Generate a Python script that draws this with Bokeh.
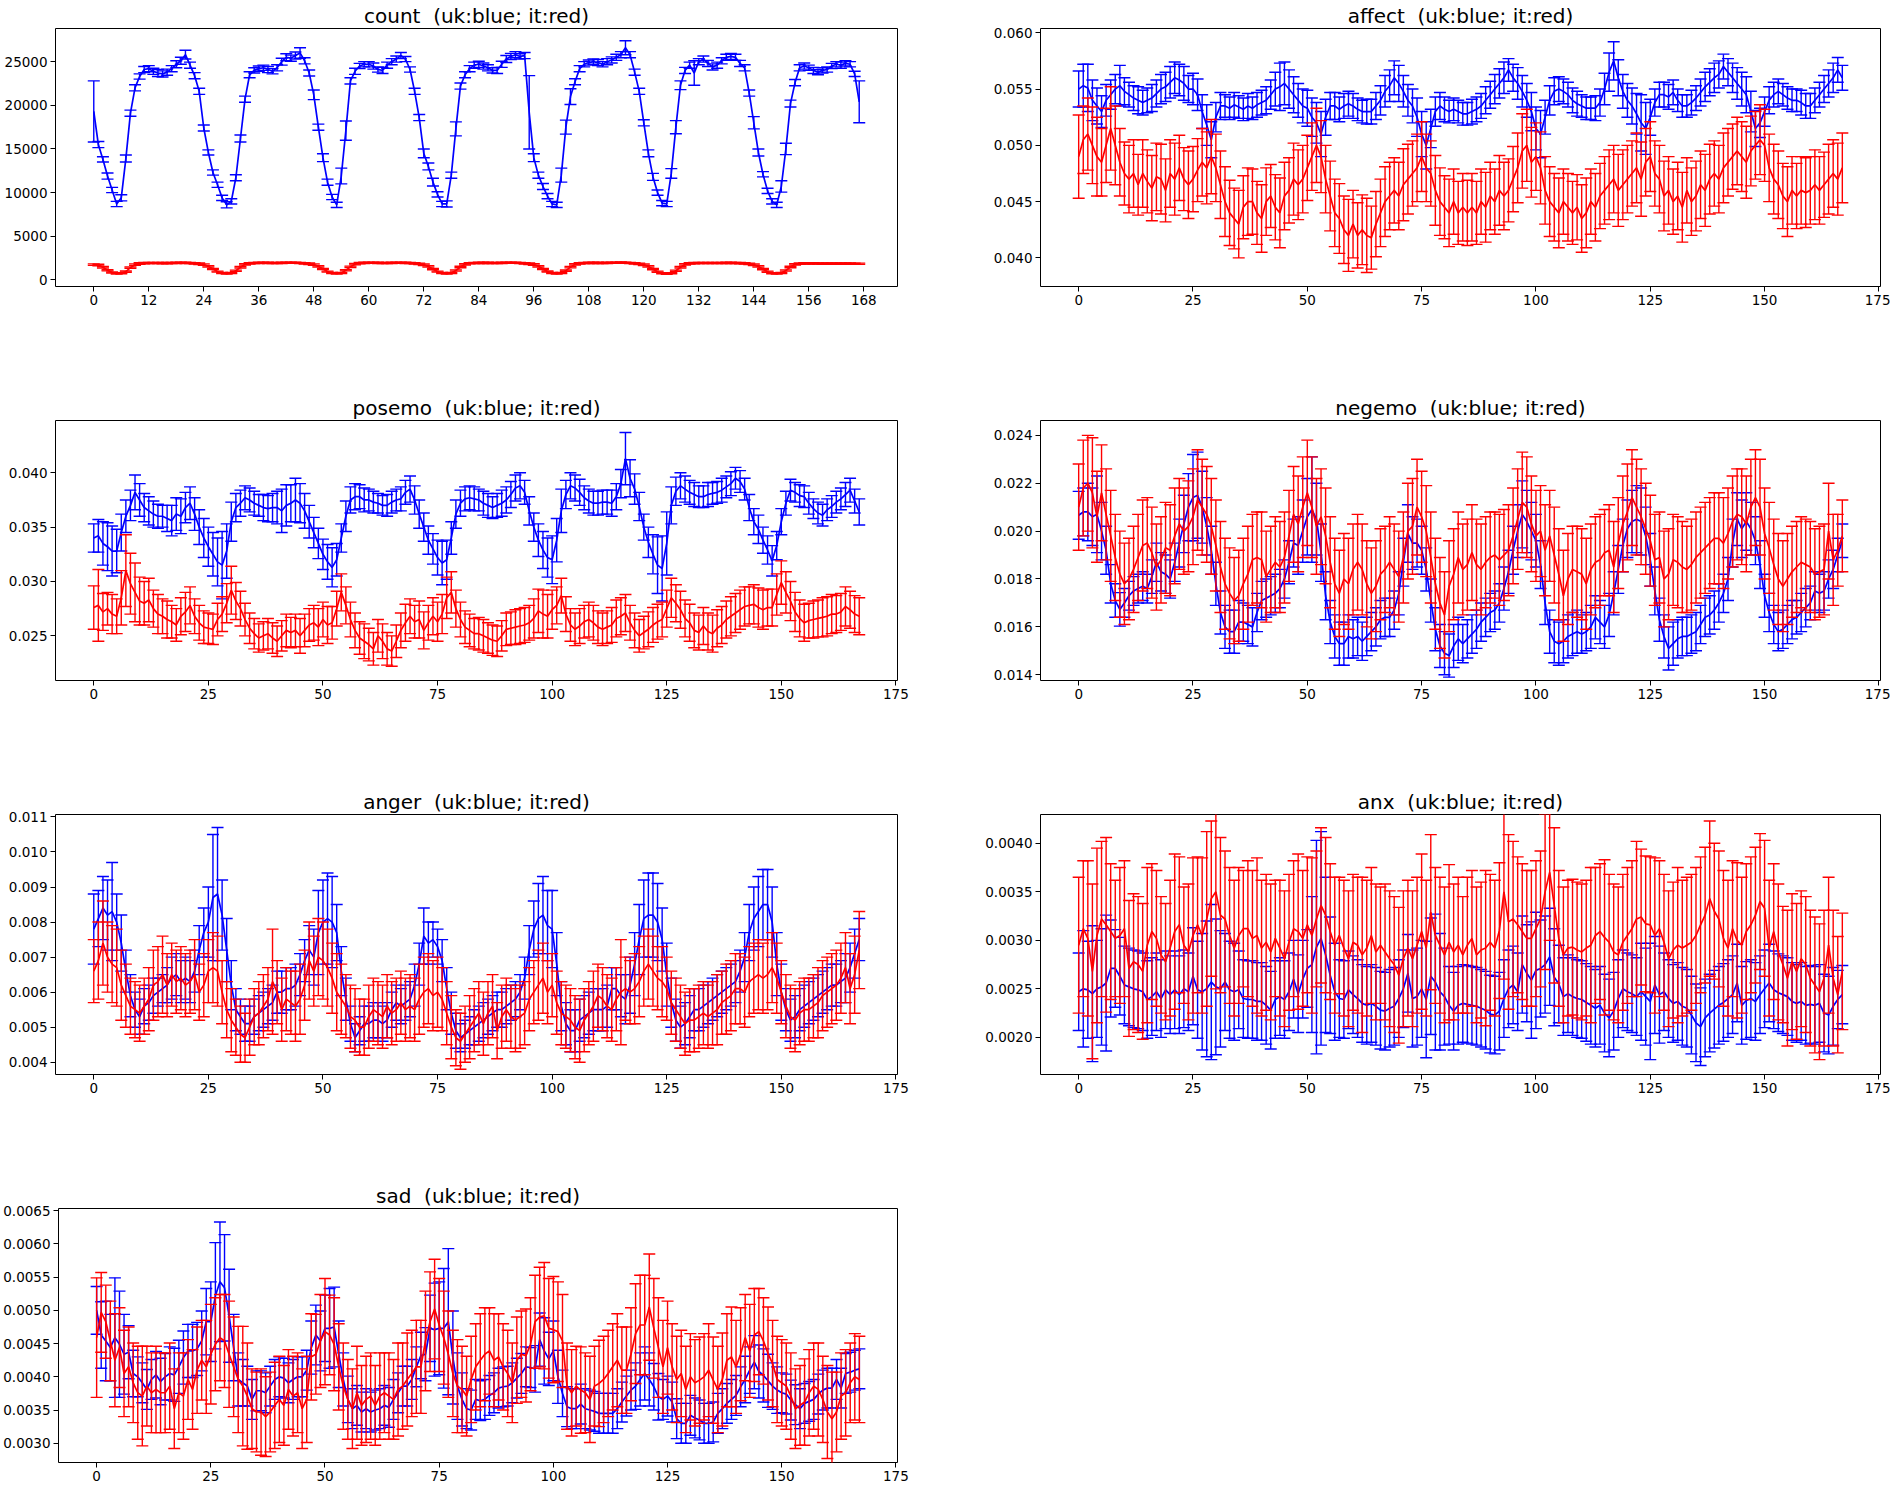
from bokeh.plotting import figure
from bokeh.layouts import column, row
from bokeh.models import ColumnDataSource, FixedTicker, Range1d
from bokeh.embed import file_html
from bokeh.resources import INLINE

hours = list(range(168))

# ---------------- count ----------------
count_uk = [19300, 15500, 13800, 11900, 10300, 8700, 9400, 13900, 19100, 22000, 23300, 24100, 24200, 23900, 23700, 23600, 23800, 24200, 24700, 25100, 25800, 24600, 23400, 21600,
            17400, 14600, 12300, 10900, 9400, 8600, 9000, 11700, 16200, 20700, 23500, 24000, 24200, 24300, 24100, 23900, 24300, 25000, 25500, 25400, 25700, 26000, 25100, 23700,
            21200, 17500, 14000, 11200, 9500, 8600, 11900, 17100, 22800, 23900, 24500, 24700, 24700, 24500, 24100, 24000, 24600, 25000, 25300, 25700, 25300, 24100, 21600, 18600,
            14500, 13000, 11200, 9800, 8700, 8700, 12000, 17300, 22200, 23500, 24200, 24600, 24700, 24500, 24300, 24000, 24000, 24700, 25300, 25600, 25800, 25600, 25700, 19200,
            14000, 12000, 10700, 9600, 8700, 8600, 12000, 17500, 21000, 22700, 24200, 24700, 24900, 25000, 24900, 24700, 25000, 25200, 25500, 25800, 26600, 25800, 23800, 21600,
            18000, 14500, 11800, 10000, 8800, 8700, 12200, 17500, 22300, 24000, 24600, 23700, 25000, 25300, 24800, 24400, 24600, 25100, 25500, 25600, 25500, 24800, 24300, 21400,
            18000, 14600, 12100, 10200, 9000, 8600, 10700, 15000, 20200, 22600, 24300, 24500, 24300, 24000, 23800, 24000, 24100, 24500, 24700, 24600, 24800, 24700, 23600, 20400]
count_uk_err = [3500, 350, 300, 350, 300, 300, 350, 400, 350, 350, 300, 350, 350, 350, 400, 350, 350, 350, 400, 400, 500, 350, 350, 350,
                350, 300, 300, 300, 300, 350, 300, 350, 400, 350, 350, 300, 300, 300, 350, 300, 350, 400, 400, 350, 400, 600, 350, 350,
                550, 350, 450, 350, 300, 300, 900, 1100, 350, 350, 300, 300, 300, 350, 300, 350, 350, 350, 350, 350, 300, 300, 350, 350,
                500, 400, 450, 300, 300, 350, 350, 800, 350, 350, 350, 350, 350, 350, 350, 300, 350, 350, 400, 350, 350, 300, 350, 4200,
                450, 350, 350, 300, 300, 300, 800, 800, 900, 350, 350, 300, 300, 300, 350, 300, 350, 350, 350, 350, 800, 350, 350, 350,
                350, 400, 400, 300, 300, 300, 550, 750, 500, 350, 350, 1400, 350, 350, 350, 350, 350, 350, 350, 350, 350, 350, 350, 350,
                700, 400, 300, 300, 300, 300, 650, 650, 400, 350, 350, 350, 300, 350, 300, 300, 300, 300, 300, 350, 300, 300, 300, 2400]
count_it = [1750, 1700, 1450, 1100, 850, 720, 760, 950, 1400, 1750, 1880, 1920, 1930, 1940, 1930, 1920, 1920, 1930, 1950, 1960, 1950, 1930, 1900, 1850,
            1750, 1550, 1250, 950, 780, 720, 780, 1050, 1450, 1780, 1900, 1930, 1950, 1960, 1950, 1940, 1940, 1950, 1960, 1970, 1960, 1940, 1900, 1850,
            1750, 1550, 1250, 950, 790, 730, 800, 1100, 1500, 1800, 1920, 1950, 1960, 1960, 1950, 1940, 1940, 1950, 1960, 1960, 1950, 1930, 1890, 1840,
            1740, 1540, 1230, 950, 780, 720, 790, 1080, 1480, 1790, 1910, 1940, 1950, 1950, 1950, 1940, 1940, 1950, 1960, 1970, 1960, 1940, 1900, 1850,
            1760, 1560, 1250, 960, 780, 720, 780, 1060, 1460, 1780, 1900, 1930, 1950, 1950, 1950, 1940, 1950, 1960, 1970, 1980, 1970, 1940, 1900, 1840,
            1740, 1540, 1230, 940, 770, 710, 770, 1050, 1450, 1770, 1890, 1920, 1930, 1940, 1940, 1930, 1930, 1940, 1950, 1950, 1940, 1920, 1890, 1840,
            1740, 1540, 1230, 940, 770, 720, 790, 1080, 1480, 1780, 1870, 1890, 1890, 1890, 1880, 1870, 1870, 1870, 1870, 1870, 1860, 1860, 1850, 1850]
count_it_err = [90, 90, 80, 70, 60, 60, 60, 70, 80, 90, 80, 70, 70, 70, 70, 70, 70, 70, 70, 70, 70, 70, 70, 80,
                90, 80, 70, 60, 60, 60, 60, 70, 80, 80, 70, 70, 70, 70, 70, 70, 70, 70, 70, 70, 70, 70, 70, 80,
                90, 80, 70, 60, 60, 60, 60, 70, 80, 80, 70, 70, 70, 70, 70, 70, 70, 70, 70, 70, 70, 70, 70, 80,
                90, 80, 70, 60, 60, 60, 60, 70, 80, 80, 70, 70, 70, 70, 70, 70, 70, 70, 70, 70, 70, 70, 70, 80,
                90, 80, 70, 60, 60, 60, 60, 70, 80, 80, 70, 70, 70, 70, 70, 70, 70, 70, 70, 70, 70, 70, 70, 80,
                90, 80, 70, 60, 60, 60, 60, 70, 80, 80, 70, 70, 70, 70, 70, 70, 70, 70, 70, 70, 70, 70, 70, 80,
                90, 80, 70, 60, 60, 60, 60, 70, 80, 80, 70, 70, 70, 70, 70, 70, 70, 70, 70, 70, 70, 70, 70, 70]

# ---------------- affect ----------------
affect_uk = [0.0550, 0.0553, 0.0551, 0.0540, 0.0535, 0.0530, 0.0540, 0.0545, 0.0550, 0.0553,
             0.0548, 0.0545, 0.0542, 0.0540, 0.0538, 0.0540, 0.0542, 0.0546, 0.0550, 0.0552,
             0.0556, 0.0560, 0.0558, 0.0555, 0.0550, 0.0550, 0.0545, 0.0530, 0.0518, 0.0505,
             0.0525, 0.0535, 0.0535, 0.0533, 0.0536, 0.0534, 0.0532, 0.0535, 0.0533, 0.0536,
             0.0538, 0.0540, 0.0545, 0.0550, 0.0552, 0.0555, 0.0550, 0.0545, 0.0540, 0.0535,
             0.0533, 0.0525, 0.0520, 0.0510, 0.0525, 0.0535, 0.0535, 0.0532, 0.0535, 0.0537,
             0.0535, 0.0532, 0.0530, 0.0530, 0.0530, 0.0535, 0.0540, 0.0548, 0.0553, 0.0560,
             0.0555, 0.0548, 0.0540, 0.0535, 0.0525, 0.0510, 0.0500, 0.0515, 0.0530, 0.0535,
             0.0532, 0.0530, 0.0532, 0.0530, 0.0528, 0.0528, 0.0530, 0.0532, 0.0535, 0.0540,
             0.0545, 0.0550, 0.0555, 0.0560, 0.0567, 0.0560, 0.0555, 0.0548, 0.0540, 0.0530,
             0.0515, 0.0510, 0.0525, 0.0540, 0.0548, 0.0550, 0.0548, 0.0545, 0.0540, 0.0537,
             0.0535, 0.0533, 0.0533, 0.0533, 0.0538, 0.0550, 0.0565, 0.0575, 0.0560, 0.0548,
             0.0540, 0.0535, 0.0528, 0.0520, 0.0515, 0.0525, 0.0538, 0.0545, 0.0545, 0.0543,
             0.0547, 0.0540, 0.0535, 0.0535, 0.0538, 0.0542, 0.0547, 0.0552, 0.0556, 0.0560,
             0.0563, 0.0570, 0.0565, 0.0560, 0.0555, 0.0550, 0.0545, 0.0530, 0.0515, 0.0520,
             0.0530, 0.0540, 0.0545, 0.0548, 0.0545, 0.0542, 0.0540, 0.0540, 0.0538, 0.0535,
             0.0535, 0.0540, 0.0545, 0.0550, 0.0555, 0.0560, 0.0567, 0.0560]
affect_uk_err = [0.0016, 0.0019, 0.0021, 0.0018, 0.0016, 0.0014, 0.0014, 0.0013, 0.0013, 0.0018,
                 0.0012, 0.0011, 0.0011, 0.0012, 0.0011, 0.0011, 0.0012, 0.0012, 0.0013, 0.0013,
                 0.0014, 0.0014, 0.0014, 0.0015, 0.0012, 0.0014, 0.0014, 0.0015, 0.0018, 0.0016,
                 0.0013, 0.0012, 0.0010, 0.0010, 0.0011, 0.0010, 0.0010, 0.0011, 0.0010, 0.0011,
                 0.0011, 0.0012, 0.0013, 0.0015, 0.0021, 0.0019, 0.0017, 0.0016, 0.0015, 0.0015,
                 0.0016, 0.0017, 0.0018, 0.0020, 0.0016, 0.0012, 0.0012, 0.0011, 0.0011, 0.0011,
                 0.0011, 0.0010, 0.0010, 0.0011, 0.0011, 0.0012, 0.0013, 0.0014, 0.0014, 0.0015,
                 0.0016, 0.0014, 0.0014, 0.0015, 0.0017, 0.0020, 0.0021, 0.0017, 0.0013, 0.0012,
                 0.0011, 0.0010, 0.0010, 0.0010, 0.0010, 0.0010, 0.0011, 0.0011, 0.0011, 0.0012,
                 0.0012, 0.0013, 0.0013, 0.0014, 0.0010, 0.0012, 0.0014, 0.0014, 0.0015, 0.0017,
                 0.0019, 0.0021, 0.0015, 0.0013, 0.0012, 0.0011, 0.0011, 0.0011, 0.0011, 0.0011,
                 0.0010, 0.0010, 0.0010, 0.0011, 0.0012, 0.0014, 0.0017, 0.0017, 0.0016, 0.0015,
                 0.0015, 0.0016, 0.0018, 0.0025, 0.0023, 0.0016, 0.0012, 0.0011, 0.0011, 0.0011,
                 0.0011, 0.0010, 0.0010, 0.0010, 0.0011, 0.0011, 0.0012, 0.0013, 0.0012, 0.0013,
                 0.0012, 0.0011, 0.0012, 0.0013, 0.0014, 0.0015, 0.0016, 0.0018, 0.0016, 0.0013,
                 0.0013, 0.0012, 0.0011, 0.0011, 0.0010, 0.0010, 0.0010, 0.0010, 0.0011, 0.0011,
                 0.0011, 0.0011, 0.0011, 0.0012, 0.0012, 0.0013, 0.0011, 0.0011]
affect_it = [0.0490, 0.0505, 0.0510, 0.0500, 0.0490, 0.0485, 0.0500, 0.0515, 0.0500, 0.0485,
             0.0475, 0.0470, 0.0475, 0.0465, 0.0475, 0.0468, 0.0462, 0.0472, 0.0470, 0.0460,
             0.0475, 0.0470, 0.0480, 0.0470, 0.0465, 0.0470, 0.0478, 0.0485, 0.0480, 0.0490,
             0.0480, 0.0465, 0.0450, 0.0440, 0.0435, 0.0430, 0.0445, 0.0450, 0.0450, 0.0440,
             0.0435, 0.0450, 0.0455, 0.0445, 0.0440, 0.0455, 0.0460, 0.0470, 0.0465, 0.0470,
             0.0480, 0.0490, 0.0500, 0.0490, 0.0470, 0.0455, 0.0440, 0.0435, 0.0425, 0.0420,
             0.0430, 0.0420, 0.0425, 0.0420, 0.0418, 0.0430, 0.0440, 0.0450, 0.0455, 0.0460,
             0.0455, 0.0465, 0.0470, 0.0475, 0.0480, 0.0490, 0.0480, 0.0475, 0.0460, 0.0450,
             0.0445, 0.0440, 0.0450, 0.0440, 0.0445, 0.0440, 0.0445, 0.0440, 0.0450, 0.0445,
             0.0455, 0.0450, 0.0460, 0.0455, 0.0460, 0.0470, 0.0480, 0.0495, 0.0500, 0.0485,
             0.0490, 0.0480, 0.0460, 0.0450, 0.0445, 0.0440, 0.0450, 0.0445, 0.0440, 0.0445,
             0.0435, 0.0440, 0.0450, 0.0445, 0.0455, 0.0460, 0.0465, 0.0470, 0.0460, 0.0465,
             0.0470, 0.0475, 0.0480, 0.0470, 0.0485, 0.0490, 0.0475, 0.0470, 0.0455, 0.0460,
             0.0450, 0.0455, 0.0445, 0.0460, 0.0450, 0.0455, 0.0465, 0.0460, 0.0470, 0.0475,
             0.0470, 0.0480, 0.0485, 0.0490, 0.0495, 0.0490, 0.0485, 0.0495, 0.0500, 0.0505,
             0.0500, 0.0480, 0.0470, 0.0465, 0.0455, 0.0450, 0.0460, 0.0455, 0.0460, 0.0458,
             0.0460, 0.0465, 0.0460, 0.0465, 0.0470, 0.0475, 0.0470, 0.0480]
affect_it_err = [0.0037, 0.0030, 0.0032, 0.0034, 0.0035, 0.0030, 0.0033, 0.0037, 0.0035, 0.0030,
                 0.0028, 0.0030, 0.0030, 0.0027, 0.0030, 0.0028, 0.0029, 0.0030, 0.0031, 0.0028,
                 0.0030, 0.0032, 0.0029, 0.0028, 0.0030, 0.0029, 0.0028, 0.0030, 0.0032, 0.0033,
                 0.0030, 0.0030, 0.0031, 0.0029, 0.0027, 0.0030, 0.0028, 0.0030, 0.0029, 0.0028,
                 0.0030, 0.0030, 0.0028, 0.0029, 0.0031, 0.0030, 0.0029, 0.0032, 0.0031, 0.0030,
                 0.0029, 0.0030, 0.0033, 0.0032, 0.0030, 0.0031, 0.0030, 0.0031, 0.0030, 0.0032,
                 0.0030, 0.0029, 0.0031, 0.0033, 0.0028, 0.0029, 0.0030, 0.0031, 0.0030, 0.0029,
                 0.0030, 0.0032, 0.0031, 0.0029, 0.0030, 0.0031, 0.0030, 0.0029, 0.0031, 0.0030,
                 0.0028, 0.0030, 0.0029, 0.0028, 0.0030, 0.0029, 0.0030, 0.0028, 0.0029, 0.0031,
                 0.0030, 0.0029, 0.0031, 0.0030, 0.0028, 0.0029, 0.0031, 0.0033, 0.0032, 0.0031,
                 0.0030, 0.0032, 0.0030, 0.0031, 0.0030, 0.0031, 0.0029, 0.0030, 0.0028, 0.0029,
                 0.0030, 0.0031, 0.0029, 0.0030, 0.0029, 0.0030, 0.0031, 0.0030, 0.0032, 0.0031,
                 0.0030, 0.0029, 0.0031, 0.0033, 0.0030, 0.0031, 0.0029, 0.0030, 0.0031, 0.0030,
                 0.0029, 0.0030, 0.0031, 0.0029, 0.0030, 0.0031, 0.0030, 0.0032, 0.0031, 0.0029,
                 0.0030, 0.0031, 0.0030, 0.0029, 0.0030, 0.0031, 0.0032, 0.0031, 0.0030, 0.0031,
                 0.0032, 0.0030, 0.0031, 0.0030, 0.0029, 0.0031, 0.0030, 0.0029, 0.0030, 0.0031,
                 0.0030, 0.0031, 0.0030, 0.0029, 0.0031, 0.0030, 0.0032, 0.0031]

# ---------------- posemo ----------------
posemo_uk = [0.0340, 0.0342, 0.0335, 0.0332, 0.0328, 0.0328, 0.0345, 0.0360, 0.0370, 0.0382,
             0.0375, 0.0368, 0.0365, 0.0362, 0.0360, 0.0360, 0.0358, 0.0356, 0.0362, 0.0360,
             0.0368, 0.0372, 0.0362, 0.0350, 0.0340, 0.0332, 0.0325, 0.0318, 0.0315, 0.0328,
             0.0355, 0.0368, 0.0372, 0.0377, 0.0375, 0.0372, 0.0370, 0.0368, 0.0367, 0.0368,
             0.0368, 0.0365, 0.0370, 0.0372, 0.0375, 0.0372, 0.0365, 0.0355, 0.0345, 0.0335,
             0.0325, 0.0318, 0.0313, 0.0320, 0.0340, 0.0360, 0.0375, 0.0378, 0.0378, 0.0375,
             0.0375, 0.0373, 0.0372, 0.0370, 0.0370, 0.0373, 0.0375, 0.0376, 0.0382, 0.0385,
             0.0375, 0.0362, 0.0350, 0.0338, 0.0330, 0.0322, 0.0317, 0.0320, 0.0340, 0.0362,
             0.0372, 0.0376, 0.0377, 0.0376,
             0.0375, 0.0372, 0.0370, 0.0368, 0.0370, 0.0372, 0.0375, 0.0380, 0.0386, 0.0388,
             0.0382, 0.0365, 0.0350, 0.0338, 0.0329, 0.0322, 0.0320, 0.0338, 0.0365, 0.0380,
             0.0388, 0.0386, 0.0382, 0.0377, 0.0374, 0.0372, 0.0372, 0.0373, 0.0373, 0.0372,
             0.0378, 0.0390, 0.0413, 0.0395, 0.0385, 0.0369, 0.0350, 0.0336, 0.0325, 0.0315,
             0.0312, 0.0335, 0.0370, 0.0383, 0.0388, 0.0385, 0.0382, 0.0380, 0.0378, 0.0378,
             0.0380, 0.0381, 0.0382, 0.0384, 0.0387, 0.0390, 0.0395, 0.0392, 0.0385, 0.0368,
             0.0355, 0.0348, 0.0338, 0.0329, 0.0319, 0.0333, 0.0355, 0.0372, 0.0384, 0.0382,
             0.0379, 0.0378, 0.0372, 0.0367, 0.0363, 0.0361, 0.0366, 0.0369, 0.0373, 0.0376,
             0.0380, 0.0384, 0.0374, 0.0364]
posemo_uk_err = [0.0013, 0.0015, 0.0020, 0.0022, 0.0023, 0.0020, 0.0017, 0.0015, 0.0014, 0.0016,
                 0.0015, 0.0013, 0.0013, 0.0012, 0.0011, 0.0010, 0.0012, 0.0014, 0.0015, 0.0016,
                 0.0014, 0.0015, 0.0015, 0.0016, 0.0018, 0.0018, 0.0020, 0.0022, 0.0031, 0.0025,
                 0.0018, 0.0013, 0.0012, 0.0011, 0.0011, 0.0011, 0.0010, 0.0012, 0.0012, 0.0013,
                 0.0015, 0.0020, 0.0019, 0.0017, 0.0020, 0.0018, 0.0016, 0.0015, 0.0014, 0.0014,
                 0.0014, 0.0016, 0.0018, 0.0015, 0.0013, 0.0014, 0.0012, 0.0012, 0.0011, 0.0011,
                 0.0010, 0.0010, 0.0009, 0.0009, 0.0010, 0.0010, 0.0010, 0.0011, 0.0011, 0.0012,
                 0.0013, 0.0013, 0.0013, 0.0013, 0.0014, 0.0016, 0.0020, 0.0018, 0.0015, 0.0013,
                 0.0012, 0.0011, 0.0011, 0.0011, 0.0010, 0.0011, 0.0011, 0.0010, 0.0011, 0.0012,
                 0.0012, 0.0012, 0.0012, 0.0012, 0.0011, 0.0013, 0.0013, 0.0015, 0.0017, 0.0018,
                 0.0022, 0.0020, 0.0020, 0.0013, 0.0012, 0.0012, 0.0012, 0.0011, 0.0011, 0.0011,
                 0.0011, 0.0011, 0.0011, 0.0012, 0.0012, 0.0013, 0.0024, 0.0017, 0.0014, 0.0013,
                 0.0012, 0.0014, 0.0018, 0.0026, 0.0030, 0.0029, 0.0017, 0.0013, 0.0012, 0.0012,
                 0.0011, 0.0011, 0.0010, 0.0010, 0.0011, 0.0010, 0.0010, 0.0011, 0.0010, 0.0011,
                 0.0010, 0.0010, 0.0010, 0.0012, 0.0012, 0.0013, 0.0012, 0.0013, 0.0014, 0.0013,
                 0.0012, 0.0011, 0.0010, 0.0009, 0.0010, 0.0010, 0.0010, 0.0009, 0.0010, 0.0010,
                 0.0010, 0.0010, 0.0010, 0.0010, 0.0011, 0.0011, 0.0011, 0.0012]
posemo_it = [0.0276, 0.0278, 0.0272, 0.0275, 0.0270, 0.0268, 0.0285, 0.0310, 0.0298, 0.0290,
             0.0282, 0.0280, 0.0283, 0.0275, 0.0270, 0.0268, 0.0265, 0.0263, 0.0260, 0.0268,
             0.0272, 0.0278, 0.0268, 0.0262, 0.0258, 0.0257, 0.0256, 0.0265, 0.0270, 0.0280,
             0.0292, 0.0282, 0.0275, 0.0265, 0.0257, 0.0252, 0.0248, 0.0250, 0.0252, 0.0248,
             0.0245, 0.0250, 0.0255, 0.0253, 0.0255, 0.0250, 0.0255, 0.0260, 0.0262, 0.0258,
             0.0265, 0.0260, 0.0262, 0.0275, 0.0290, 0.0278, 0.0265, 0.0255, 0.0248, 0.0245,
             0.0242, 0.0238, 0.0250, 0.0245, 0.0238, 0.0236, 0.0245, 0.0255, 0.0262, 0.0268,
             0.0263, 0.0265, 0.0255, 0.0262, 0.0268, 0.0263, 0.0270, 0.0285, 0.0290, 0.0275,
             0.0265, 0.0258, 0.0255, 0.0252,
             0.0252, 0.0250, 0.0248, 0.0246, 0.0245, 0.0250, 0.0256, 0.0257, 0.0258, 0.0259,
             0.0260, 0.0262, 0.0266, 0.0273, 0.0270, 0.0268, 0.0274, 0.0278, 0.0287, 0.0270,
             0.0260, 0.0256, 0.0259, 0.0263, 0.0265, 0.0262, 0.0258, 0.0256, 0.0258, 0.0260,
             0.0266, 0.0268, 0.0271, 0.0262, 0.0255, 0.0250, 0.0253, 0.0256, 0.0260, 0.0263,
             0.0265, 0.0275, 0.0285, 0.0280, 0.0274, 0.0266, 0.0262, 0.0255, 0.0253, 0.0259,
             0.0254, 0.0252, 0.0257, 0.0260, 0.0265, 0.0268, 0.0271, 0.0274, 0.0277, 0.0278,
             0.0279, 0.0276, 0.0274, 0.0276, 0.0276, 0.0288, 0.0299, 0.0290, 0.0282, 0.0272,
             0.0266, 0.0262, 0.0264, 0.0265, 0.0266, 0.0267, 0.0268, 0.0270, 0.0270, 0.0272,
             0.0277, 0.0274, 0.0270, 0.0268]
posemo_it_err = [0.0020, 0.0033, 0.0017, 0.0015, 0.0018, 0.0016, 0.0025, 0.0033, 0.0028, 0.0027,
                 0.0022, 0.0020, 0.0020, 0.0017, 0.0018, 0.0016, 0.0017, 0.0015, 0.0015, 0.0017,
                 0.0018, 0.0017, 0.0016, 0.0016, 0.0015, 0.0014, 0.0014, 0.0015, 0.0016, 0.0018,
                 0.0022, 0.0017, 0.0016, 0.0015, 0.0014, 0.0014, 0.0013, 0.0013, 0.0014, 0.0014,
                 0.0014, 0.0014, 0.0015, 0.0014, 0.0015, 0.0016, 0.0015, 0.0015, 0.0016, 0.0017,
                 0.0016, 0.0017, 0.0015, 0.0016, 0.0017, 0.0017, 0.0016, 0.0016, 0.0015, 0.0016,
                 0.0015, 0.0015, 0.0015, 0.0016, 0.0015, 0.0014, 0.0015, 0.0016, 0.0017, 0.0016,
                 0.0015, 0.0017, 0.0017, 0.0016, 0.0017, 0.0018, 0.0018, 0.0019, 0.0019, 0.0017,
                 0.0016, 0.0015, 0.0015, 0.0014, 0.0015, 0.0015, 0.0014, 0.0014, 0.0014, 0.0014,
                 0.0015, 0.0015, 0.0016, 0.0016, 0.0016, 0.0016, 0.0018, 0.0020, 0.0022, 0.0020,
                 0.0018, 0.0017, 0.0016, 0.0016, 0.0015, 0.0015, 0.0016, 0.0015, 0.0016, 0.0016,
                 0.0015, 0.0015, 0.0015, 0.0016, 0.0017, 0.0017, 0.0017, 0.0016, 0.0016, 0.0015,
                 0.0015, 0.0016, 0.0016, 0.0016, 0.0016, 0.0017, 0.0018, 0.0017, 0.0017, 0.0017,
                 0.0017, 0.0016, 0.0016, 0.0017, 0.0017, 0.0017, 0.0017, 0.0017, 0.0017, 0.0018,
                 0.0018, 0.0018, 0.0018, 0.0017, 0.0018, 0.0018, 0.0018, 0.0017, 0.0017, 0.0019,
                 0.0020, 0.0019, 0.0018, 0.0018, 0.0017, 0.0017, 0.0016, 0.0017, 0.0017, 0.0018,
                 0.0018, 0.0018, 0.0017, 0.0017, 0.0018, 0.0017, 0.0017, 0.0017]

# ---------------- negemo ----------------
negemo_uk = [0.02066, 0.0208, 0.0208, 0.0206, 0.0207, 0.0200, 0.0192, 0.0178, 0.0171, 0.01673,
             0.0170, 0.0173, 0.0175, 0.0176, 0.0177, 0.0176, 0.0181, 0.0187, 0.0183, 0.0182,
             0.0180, 0.0187, 0.0195, 0.0203, 0.0210, 0.0214, 0.0215, 0.0210, 0.0202, 0.0192,
             0.0178, 0.0166, 0.0160, 0.0158, 0.0158, 0.0162, 0.0162, 0.0161, 0.0160, 0.0166,
             0.0171, 0.0172, 0.0173, 0.0174, 0.0176, 0.0180, 0.0187, 0.0195, 0.0194, 0.0200,
             0.0206, 0.0209, 0.0205, 0.0191, 0.0173, 0.0162, 0.0156, 0.0153, 0.0153, 0.0156,
             0.0155, 0.0156, 0.0154, 0.0156, 0.0158, 0.0160, 0.0163, 0.0164, 0.0164, 0.0167,
             0.0174, 0.0187, 0.0199, 0.0195, 0.0195, 0.0192, 0.0184, 0.0171, 0.0159, 0.0152,
             0.0149, 0.0148, 0.0152, 0.0155,
             0.0153, 0.0155, 0.0157, 0.0159, 0.0162, 0.0164, 0.0166, 0.0167, 0.0170, 0.0176,
             0.0183, 0.0192, 0.0200, 0.0207, 0.0204, 0.0200, 0.0196, 0.0186, 0.0170, 0.0158,
             0.0154, 0.0153, 0.0154, 0.0156, 0.0157, 0.0158, 0.0157, 0.0158, 0.0160, 0.0164,
             0.0162, 0.0160, 0.0165, 0.0174, 0.0184, 0.0194, 0.0201, 0.0204, 0.0205, 0.0204,
             0.0198, 0.0188, 0.0175, 0.0163, 0.0156, 0.0151, 0.0153, 0.0155, 0.0156, 0.0156,
             0.0157, 0.0158, 0.0161, 0.0164, 0.0165, 0.0167, 0.0170, 0.0174, 0.0180, 0.0195,
             0.0205, 0.0201, 0.0204, 0.0201, 0.0196, 0.0186, 0.0173, 0.0166, 0.0161, 0.0158,
             0.0159, 0.0161, 0.0163, 0.0164, 0.0166, 0.0168, 0.0170, 0.0175, 0.0174, 0.0175,
             0.0180, 0.0184, 0.0190, 0.0196]
negemo_uk_err = [0.0010, 0.0010, 0.0012, 0.0012, 0.0016, 0.0012, 0.0010, 0.0008, 0.0007, 0.0007,
                 0.0006, 0.0006, 0.0006, 0.0006, 0.0006, 0.0006, 0.0007, 0.0008, 0.0008, 0.0008,
                 0.0008, 0.0008, 0.0010, 0.0012, 0.0014, 0.0018, 0.0018, 0.0015, 0.0012, 0.0010,
                 0.0009, 0.0009, 0.0009, 0.0009, 0.0009, 0.0009, 0.0008, 0.0008, 0.0008, 0.0008,
                 0.0008, 0.0008, 0.0008, 0.0008, 0.0008, 0.0008, 0.0009, 0.0010, 0.0012, 0.0013,
                 0.0016, 0.0022, 0.0015, 0.0012, 0.0010, 0.0009, 0.0009, 0.0009, 0.0009, 0.0009,
                 0.0008, 0.0008, 0.0008, 0.0008, 0.0008, 0.0008, 0.0008, 0.0008, 0.0008, 0.0008,
                 0.0009, 0.0010, 0.0012, 0.0011, 0.0010, 0.0010, 0.0009, 0.0009, 0.0009, 0.0009,
                 0.0009, 0.0009, 0.0009, 0.0009, 0.0008, 0.0008, 0.0008, 0.0008, 0.0008, 0.0008,
                 0.0008, 0.0008, 0.0008, 0.0009, 0.0009, 0.0010, 0.0011, 0.0014, 0.0013, 0.0012,
                 0.0011, 0.0010, 0.0009, 0.0009, 0.0009, 0.0009, 0.0009, 0.0009, 0.0009, 0.0009,
                 0.0008, 0.0008, 0.0009, 0.0009, 0.0009, 0.0009, 0.0009, 0.0009, 0.0010, 0.0011,
                 0.0012, 0.0013, 0.0014, 0.0014, 0.0012, 0.0011, 0.0010, 0.0009, 0.0009, 0.0009,
                 0.0009, 0.0008, 0.0008, 0.0008, 0.0008, 0.0008, 0.0008, 0.0008, 0.0008, 0.0008,
                 0.0008, 0.0008, 0.0009, 0.0010, 0.0011, 0.0012, 0.0012, 0.0011, 0.0010, 0.0010,
                 0.0009, 0.0008, 0.0008, 0.0008, 0.0008, 0.0008, 0.0008, 0.0007, 0.0008, 0.0008,
                 0.0007, 0.0008, 0.0008, 0.0008, 0.0008, 0.0008, 0.0007, 0.0007]
negemo_it = [0.0210, 0.0218, 0.0220, 0.0216, 0.0206, 0.0216, 0.0207, 0.0198, 0.0189, 0.0182,
             0.0178, 0.0180, 0.0184, 0.0189, 0.0194, 0.0195, 0.0191, 0.0185, 0.0188, 0.0193,
             0.0192, 0.0198, 0.0203, 0.0200, 0.0202, 0.0206, 0.0213, 0.0210, 0.0207, 0.0202,
             0.0194, 0.0185, 0.0178, 0.0174, 0.0171, 0.0173, 0.0178, 0.0182, 0.0188, 0.0189,
             0.0188, 0.0181, 0.0184, 0.0187, 0.0185, 0.0189, 0.0198, 0.0207, 0.0203, 0.0210,
             0.0216, 0.0210, 0.0202, 0.0206, 0.0198, 0.0187, 0.0178, 0.0174, 0.0180, 0.0178,
             0.0184, 0.0187, 0.0184, 0.0178, 0.0174, 0.0177, 0.0182, 0.0184, 0.0187, 0.0184,
             0.0181, 0.0189, 0.0200, 0.0202, 0.0210, 0.0206, 0.0200, 0.0189, 0.0178, 0.0170,
             0.0165, 0.0177, 0.0182, 0.0189,
             0.0184, 0.0186, 0.0191, 0.0186, 0.0184, 0.0187, 0.0189, 0.0190, 0.0188, 0.0190,
             0.0192, 0.0198, 0.0205, 0.0212, 0.0210, 0.0203, 0.0198, 0.0200, 0.0192, 0.0198,
             0.0190, 0.0182, 0.0173, 0.0180, 0.0184, 0.0183, 0.0182, 0.0178, 0.0184, 0.0187,
             0.0188, 0.0191, 0.0192, 0.0185, 0.0195, 0.0203, 0.0208, 0.0214, 0.0210, 0.0206,
             0.0201, 0.0196, 0.0188, 0.0189, 0.0180, 0.0182, 0.0188, 0.0187, 0.0185, 0.0184,
             0.0186, 0.0189, 0.0191, 0.0193, 0.0195, 0.0197, 0.0197, 0.0195, 0.0199, 0.0204,
             0.0207, 0.0206, 0.0203, 0.0210, 0.0214, 0.0210, 0.0199, 0.0193, 0.0186, 0.0180,
             0.0177, 0.0180, 0.0183, 0.0185, 0.0187, 0.0186, 0.0185, 0.0182, 0.0183, 0.0184,
             0.0200, 0.0188, 0.0192, 0.0198]
negemo_it_err = [0.0018, 0.0020, 0.0020, 0.0023, 0.0019, 0.0020, 0.0019, 0.0019, 0.0018, 0.0018,
                 0.0017, 0.0017, 0.0018, 0.0018, 0.0019, 0.0019, 0.0019, 0.0018, 0.0018, 0.0019,
                 0.0019, 0.0020, 0.0019, 0.0018, 0.0019, 0.0020, 0.0021, 0.0020, 0.0020, 0.0020,
                 0.0019, 0.0019, 0.0019, 0.0019, 0.0018, 0.0019, 0.0019, 0.0020, 0.0019, 0.0019,
                 0.0020, 0.0019, 0.0018, 0.0019, 0.0019, 0.0019, 0.0019, 0.0020, 0.0020, 0.0021,
                 0.0022, 0.0021, 0.0020, 0.0020, 0.0020, 0.0019, 0.0019, 0.0018, 0.0019, 0.0019,
                 0.0019, 0.0020, 0.0019, 0.0018, 0.0019, 0.0019, 0.0019, 0.0018, 0.0019, 0.0019,
                 0.0019, 0.0019, 0.0020, 0.0020, 0.0020, 0.0019, 0.0019, 0.0019, 0.0019, 0.0019,
                 0.0018, 0.0019, 0.0019, 0.0019, 0.0019, 0.0019, 0.0020, 0.0019, 0.0019, 0.0019,
                 0.0019, 0.0018, 0.0019, 0.0019, 0.0019, 0.0020, 0.0021, 0.0021, 0.0021, 0.0020,
                 0.0019, 0.0019, 0.0019, 0.0019, 0.0020, 0.0019, 0.0019, 0.0019, 0.0018, 0.0019,
                 0.0019, 0.0019, 0.0019, 0.0019, 0.0019, 0.0018, 0.0019, 0.0019, 0.0019, 0.0020,
                 0.0020, 0.0020, 0.0020, 0.0020, 0.0019, 0.0019, 0.0019, 0.0019, 0.0020, 0.0019,
                 0.0019, 0.0019, 0.0019, 0.0018, 0.0019, 0.0019, 0.0019, 0.0019, 0.0019, 0.0019,
                 0.0019, 0.0019, 0.0019, 0.0019, 0.0019, 0.0020, 0.0020, 0.0020, 0.0020, 0.0020,
                 0.0019, 0.0019, 0.0019, 0.0019, 0.0019, 0.0019, 0.0019, 0.0019, 0.0019, 0.0019,
                 0.0019, 0.0019, 0.0019, 0.0019, 0.0020, 0.0019, 0.0015, 0.0015]

# ---------------- anger ----------------
anger_uk = [0.0078, 0.0081, 0.0084, 0.0082, 0.0083, 0.0080, 0.0074, 0.0066, 0.0059, 0.0055,
            0.0053, 0.0056, 0.0057, 0.0059, 0.0060, 0.0061, 0.0062, 0.0064, 0.0065, 0.0063,
            0.0064, 0.0063, 0.0066, 0.0072, 0.0077, 0.0080, 0.0087, 0.0088, 0.0082, 0.0072,
            0.0062, 0.0055, 0.0053, 0.0051, 0.0051, 0.0053, 0.0054, 0.0055, 0.0056, 0.0057,
            0.0060, 0.0060, 0.0061, 0.0061, 0.0062, 0.0065, 0.0069, 0.0072, 0.0070, 0.0077,
            0.0080, 0.0081, 0.0080, 0.0077, 0.0066, 0.0058, 0.0051, 0.0047, 0.0049, 0.0051,
            0.0051, 0.0052, 0.0052, 0.0051, 0.0052, 0.0055, 0.0057, 0.0056, 0.0057, 0.0058,
            0.0062, 0.0068, 0.0076, 0.0074, 0.0075, 0.0073, 0.0069, 0.0061, 0.0054, 0.0049,
            0.0047, 0.0048, 0.0049, 0.0050,
            0.0051, 0.0052, 0.0053, 0.0054, 0.0055, 0.0055, 0.0056, 0.0057, 0.0058, 0.0060,
            0.0064, 0.0072, 0.0078, 0.0081, 0.0082, 0.0079, 0.0078, 0.0068, 0.0056, 0.0051,
            0.0049, 0.0049, 0.0052, 0.0053, 0.0054, 0.0055, 0.0055, 0.0055, 0.0056, 0.0061,
            0.0061, 0.0059, 0.0058, 0.0062, 0.0068, 0.0075, 0.0081, 0.0082, 0.0082, 0.0080,
            0.0075, 0.0065, 0.0057, 0.0052, 0.0050, 0.0051, 0.0053, 0.0055, 0.0055, 0.0056,
            0.0057, 0.0058, 0.0059, 0.0060, 0.0061, 0.0062, 0.0063, 0.0066, 0.0070, 0.0077,
            0.0081, 0.0083, 0.0085, 0.0085, 0.0080, 0.0068, 0.0060, 0.0055, 0.0052, 0.0053,
            0.0055, 0.0056, 0.0057, 0.0058, 0.0059, 0.0060, 0.0061, 0.0062, 0.0062, 0.0063,
            0.0064, 0.0067, 0.0071, 0.0075]
anger_uk_err = [0.0010, 0.0008, 0.0009, 0.0010, 0.0014, 0.0008, 0.0008, 0.0006, 0.0006, 0.0005,
                0.0005, 0.0005, 0.0005, 0.0005, 0.0004, 0.0004, 0.0005, 0.0006, 0.0006, 0.0006,
                0.0006, 0.0006, 0.0006, 0.0007, 0.0007, 0.0010, 0.0018, 0.0019, 0.0010, 0.0009,
                0.0007, 0.0006, 0.0005, 0.0005, 0.0005, 0.0005, 0.0005, 0.0005, 0.0005, 0.0005,
                0.0006, 0.0006, 0.0006, 0.0006, 0.0006, 0.0006, 0.0006, 0.0007, 0.0008, 0.0012,
                0.0012, 0.0013, 0.0013, 0.0008, 0.0007, 0.0006, 0.0005, 0.0004, 0.0004, 0.0005,
                0.0005, 0.0005, 0.0005, 0.0005, 0.0005, 0.0005, 0.0005, 0.0005, 0.0005, 0.0005,
                0.0006, 0.0006, 0.0008, 0.0006, 0.0005, 0.0005, 0.0006, 0.0006, 0.0006, 0.0005,
                0.0004, 0.0004, 0.0004, 0.0005, 0.0005, 0.0005, 0.0005, 0.0005, 0.0005, 0.0005,
                0.0005, 0.0005, 0.0005, 0.0005, 0.0006, 0.0007, 0.0008, 0.0010, 0.0011, 0.0010,
                0.0011, 0.0009, 0.0007, 0.0006, 0.0006, 0.0006, 0.0006, 0.0006, 0.0006, 0.0006,
                0.0006, 0.0006, 0.0006, 0.0006, 0.0006, 0.0006, 0.0007, 0.0008, 0.0009, 0.0010,
                0.0011, 0.0012, 0.0012, 0.0011, 0.0009, 0.0009, 0.0007, 0.0006, 0.0006, 0.0006,
                0.0006, 0.0006, 0.0006, 0.0006, 0.0006, 0.0006, 0.0006, 0.0006, 0.0006, 0.0006,
                0.0006, 0.0006, 0.0007, 0.0008, 0.0009, 0.0010, 0.0010, 0.0010, 0.0010, 0.0009,
                0.0008, 0.0006, 0.0006, 0.0006, 0.0006, 0.0006, 0.0006, 0.0006, 0.0006, 0.0006,
                0.0006, 0.0006, 0.0006, 0.0006, 0.0007, 0.0007, 0.0007, 0.0006]
anger_it = [0.0066, 0.0069, 0.0074, 0.0070, 0.0068, 0.0067, 0.0062, 0.0059, 0.0056, 0.0055,
            0.0054, 0.0056, 0.0058, 0.0062, 0.0063, 0.0065, 0.0062, 0.0065, 0.0063, 0.0064,
            0.0062, 0.0063, 0.0065, 0.0060, 0.0062, 0.0066, 0.0067, 0.0066, 0.0060, 0.0055,
            0.0052, 0.0050, 0.0048, 0.0047, 0.0050, 0.0053, 0.0054, 0.0056, 0.0058, 0.0063,
            0.0060, 0.0055, 0.0058, 0.0057, 0.0056, 0.0058, 0.0062, 0.0069, 0.0066, 0.0070,
            0.0069, 0.0067, 0.0064, 0.0060, 0.0058, 0.0056, 0.0053, 0.0052, 0.0050, 0.0050,
            0.0053, 0.0055, 0.0054, 0.0053, 0.0056, 0.0054, 0.0055, 0.0057, 0.0055, 0.0056,
            0.0055, 0.0058, 0.0060, 0.0061, 0.0059, 0.0060, 0.0058, 0.0054, 0.0050, 0.0047,
            0.0046, 0.0048, 0.0050, 0.0052,
            0.0054, 0.0051, 0.0054, 0.0056, 0.0049, 0.0053, 0.0055, 0.0053, 0.0052, 0.0053,
            0.0054, 0.0058, 0.0060, 0.0062, 0.0064, 0.0060, 0.0062, 0.0057, 0.0054, 0.0053,
            0.0052, 0.0050, 0.0049, 0.0052, 0.0054, 0.0056, 0.0059, 0.0058, 0.0056, 0.0055,
            0.0058, 0.0060, 0.0061, 0.0060, 0.0061, 0.0063, 0.0066, 0.0068, 0.0066, 0.0064,
            0.0063, 0.0061, 0.0057, 0.0055, 0.0053, 0.0051, 0.0052, 0.0052, 0.0053, 0.0054,
            0.0053, 0.0054, 0.0055, 0.0057, 0.0058, 0.0059, 0.0061, 0.0061, 0.0060, 0.0063,
            0.0064, 0.0065, 0.0064, 0.0065, 0.0067, 0.0064, 0.0060, 0.0056, 0.0053, 0.0052,
            0.0054, 0.0055, 0.0055, 0.0056, 0.0057, 0.0059, 0.0060, 0.0061, 0.0062, 0.0064,
            0.0067, 0.0061, 0.0065, 0.0072]
anger_it_err = [0.0009, 0.0011, 0.0012, 0.0010, 0.0011, 0.0011, 0.0010, 0.0009, 0.0008, 0.0008,
                0.0008, 0.0008, 0.0009, 0.0010, 0.0010, 0.0011, 0.0009, 0.0009, 0.0009, 0.0009,
                0.0009, 0.0009, 0.0010, 0.0008, 0.0009, 0.0009, 0.0010, 0.0010, 0.0009, 0.0008,
                0.0009, 0.0008, 0.0008, 0.0007, 0.0008, 0.0008, 0.0009, 0.0009, 0.0009, 0.0015,
                0.0009, 0.0009, 0.0009, 0.0009, 0.0010, 0.0010, 0.0010, 0.0011, 0.0010, 0.0011,
                0.0011, 0.0011, 0.0010, 0.0011, 0.0010, 0.0009, 0.0009, 0.0009, 0.0008, 0.0008,
                0.0009, 0.0009, 0.0009, 0.0009, 0.0009, 0.0009, 0.0009, 0.0009, 0.0009, 0.0009,
                0.0009, 0.0010, 0.0010, 0.0010, 0.0010, 0.0010, 0.0009, 0.0009, 0.0009, 0.0008,
                0.0008, 0.0008, 0.0009, 0.0009, 0.0009, 0.0009, 0.0009, 0.0009, 0.0008, 0.0009,
                0.0009, 0.0009, 0.0009, 0.0009, 0.0009, 0.0009, 0.0009, 0.0010, 0.0010, 0.0009,
                0.0009, 0.0009, 0.0009, 0.0009, 0.0009, 0.0009, 0.0009, 0.0009, 0.0009, 0.0010,
                0.0009, 0.0009, 0.0009, 0.0009, 0.0009, 0.0015, 0.0009, 0.0009, 0.0010, 0.0010,
                0.0010, 0.0010, 0.0010, 0.0009, 0.0010, 0.0009, 0.0009, 0.0009, 0.0009, 0.0009,
                0.0009, 0.0009, 0.0009, 0.0009, 0.0009, 0.0009, 0.0010, 0.0009, 0.0010, 0.0010,
                0.0010, 0.0010, 0.0010, 0.0010, 0.0010, 0.0010, 0.0010, 0.0010, 0.0010, 0.0010,
                0.0009, 0.0009, 0.0009, 0.0009, 0.0009, 0.0009, 0.0009, 0.0009, 0.0010, 0.0010,
                0.0010, 0.0010, 0.0010, 0.0010, 0.0010, 0.0010, 0.0011, 0.0011]

# ---------------- anx ----------------
anx_uk = [0.00247, 0.00250, 0.00249, 0.00245, 0.00250, 0.00252, 0.00256, 0.00271, 0.00271, 0.00263,
          0.00254, 0.00252, 0.00250, 0.00249, 0.00247, 0.00239, 0.00242, 0.00247, 0.00240, 0.00249,
          0.00244, 0.00249, 0.00244, 0.00250, 0.00247, 0.00263, 0.00249, 0.00247, 0.00250, 0.00257,
          0.00252, 0.00250, 0.00257, 0.00249, 0.00247, 0.00249, 0.00240, 0.00239, 0.00239, 0.00237,
          0.00237, 0.00233, 0.00228, 0.00239, 0.00242, 0.00239, 0.00247, 0.00260, 0.00245, 0.00260,
          0.00271, 0.00275, 0.00293, 0.00302, 0.00285, 0.00264, 0.00247, 0.00240, 0.00239, 0.00249,
          0.00244, 0.00240, 0.00235, 0.00233, 0.00235, 0.00232, 0.00228, 0.00227, 0.00230, 0.00232,
          0.00240, 0.00250, 0.00266, 0.00240, 0.00242, 0.00250, 0.00239, 0.00263, 0.00257, 0.00247,
          0.00242, 0.00233, 0.00227, 0.00233,
          0.00235, 0.00234, 0.00233, 0.00232, 0.00230, 0.00228, 0.00224, 0.00223, 0.00227, 0.00240,
          0.00250, 0.00254, 0.00247, 0.00275, 0.00266, 0.00259, 0.00269, 0.00271, 0.00275, 0.00283,
          0.00262, 0.00255, 0.00242, 0.00245, 0.00242, 0.00240, 0.00239, 0.00236, 0.00233, 0.00230,
          0.00233, 0.00225, 0.00220, 0.00227, 0.00240, 0.00250, 0.00247, 0.00245, 0.00242, 0.00247,
          0.00242, 0.00237, 0.00254, 0.00244, 0.00247, 0.00240, 0.00235, 0.00237, 0.00232, 0.00230,
          0.00223, 0.00215, 0.00211, 0.00220, 0.00225, 0.00229, 0.00233, 0.00236, 0.00240, 0.00244,
          0.00256, 0.00233, 0.00238, 0.00240, 0.00237, 0.00244, 0.00250, 0.00256, 0.00249, 0.00246,
          0.00244, 0.00242, 0.00237, 0.00235, 0.00237, 0.00233, 0.00234, 0.00233, 0.00235, 0.00225,
          0.00223, 0.00232, 0.00239, 0.00244]
anx_uk_err = [0.0004, 0.0006, 0.0005, 0.0007, 0.0005, 0.0006, 0.0007, 0.0005, 0.0004, 0.0004,
              0.0004, 0.0004, 0.0004, 0.0004, 0.0004, 0.0004, 0.0004, 0.0004, 0.0004, 0.0004,
              0.0004, 0.0004, 0.0004, 0.0004, 0.0004, 0.0005, 0.0005, 0.0006, 0.0007, 0.0008,
              0.0007, 0.0006, 0.0005, 0.0005, 0.0005, 0.0004, 0.0004, 0.0004, 0.0004, 0.0004,
              0.0004, 0.0004, 0.0004, 0.0004, 0.0004, 0.0004, 0.0004, 0.0004, 0.0004, 0.0004,
              0.0004, 0.0007, 0.0011, 0.0011, 0.0008, 0.0006, 0.0005, 0.0004, 0.0004, 0.0004,
              0.0004, 0.0004, 0.0004, 0.0004, 0.0004, 0.0004, 0.0004, 0.0004, 0.0004, 0.0004,
              0.0004, 0.0004, 0.0004, 0.0005, 0.0005, 0.0005, 0.0006, 0.0006, 0.0007, 0.0006,
              0.0005, 0.0004, 0.0004, 0.0004, 0.0004, 0.0004, 0.0004, 0.0004, 0.0004, 0.0004,
              0.0004, 0.0004, 0.0004, 0.0004, 0.0004, 0.0004, 0.0004, 0.0005, 0.0005, 0.0006,
              0.0006, 0.0005, 0.0005, 0.0005, 0.0005, 0.0004, 0.0004, 0.0004, 0.0004, 0.0004,
              0.0004, 0.0004, 0.0004, 0.0004, 0.0004, 0.0004, 0.0004, 0.0004, 0.0004, 0.0004,
              0.0004, 0.0004, 0.0004, 0.0005, 0.0005, 0.0006, 0.0005, 0.0005, 0.0004, 0.0004,
              0.0004, 0.0004, 0.0004, 0.0004, 0.0004, 0.0004, 0.0004, 0.0004, 0.0004, 0.0004,
              0.0004, 0.0004, 0.0004, 0.0004, 0.0004, 0.0004, 0.0004, 0.0004, 0.0004, 0.0004,
              0.0004, 0.0004, 0.0004, 0.0004, 0.0004, 0.0004, 0.0004, 0.0004, 0.0004, 0.0004,
              0.0004, 0.0004, 0.0004, 0.0004, 0.0004, 0.0004, 0.0003, 0.0003]
anx_it = [0.00295, 0.00312, 0.00302, 0.00268, 0.00305, 0.00322, 0.00316, 0.00309, 0.00302, 0.00305,
          0.00312, 0.00271, 0.00278, 0.00275, 0.00268, 0.00295, 0.00309, 0.00302, 0.00285, 0.00278,
          0.00292, 0.00309, 0.00316, 0.00295, 0.00288, 0.00305, 0.00316, 0.00305, 0.00322, 0.00343,
          0.00350, 0.00326, 0.00322, 0.00305, 0.00292, 0.00305, 0.00312, 0.00312, 0.00302, 0.00305,
          0.00292, 0.00298, 0.00288, 0.00302, 0.00292, 0.00281, 0.00298, 0.00312, 0.00309, 0.00302,
          0.00316, 0.00305, 0.00322, 0.00336, 0.00326, 0.00309, 0.00295, 0.00305, 0.00292, 0.00281,
          0.00298, 0.00295, 0.00285, 0.00292, 0.00305, 0.00288, 0.00295, 0.00288, 0.00281, 0.00275,
          0.00264, 0.00281, 0.00292, 0.00281, 0.00295, 0.00309, 0.00292, 0.00329, 0.00305, 0.00295,
          0.00285, 0.00298, 0.00288, 0.00295,
          0.00285, 0.00295, 0.00302, 0.00285, 0.00290, 0.00292, 0.00298, 0.00292, 0.00310, 0.00350,
          0.00319, 0.00322, 0.00316, 0.00309, 0.00302, 0.00302, 0.00312, 0.00322, 0.00350, 0.00370,
          0.00336, 0.00302, 0.00285, 0.00292, 0.00293, 0.00290, 0.00288, 0.00292, 0.00295, 0.00305,
          0.00309, 0.00303, 0.00298, 0.00288, 0.00285, 0.00298, 0.00305, 0.00312, 0.00322, 0.00324,
          0.00317, 0.00316, 0.00305, 0.00312, 0.00298, 0.00281, 0.00290, 0.00295, 0.00292, 0.00295,
          0.00298, 0.00305, 0.00316, 0.00326, 0.00343, 0.00330, 0.00322, 0.00302, 0.00292, 0.00312,
          0.00300, 0.00295, 0.00309, 0.00316, 0.00326, 0.00340, 0.00333, 0.00292, 0.00309, 0.00288,
          0.00275, 0.00261, 0.00278, 0.00268, 0.00281, 0.00275, 0.00261, 0.00254, 0.00247, 0.00261,
          0.00295, 0.00261, 0.00244, 0.00268]
anx_it_err = [0.0007, 0.0007, 0.0008, 0.0009, 0.0009, 0.0008, 0.0009, 0.0007, 0.0006, 0.0007,
              0.0007, 0.0007, 0.0007, 0.0007, 0.0007, 0.0008, 0.0007, 0.0007, 0.0006, 0.0006,
              0.0007, 0.0008, 0.0007, 0.0006, 0.0007, 0.0008, 0.0007, 0.0008, 0.0009, 0.0008,
              0.0010, 0.0008, 0.0007, 0.0007, 0.0007, 0.0007, 0.0006, 0.0007, 0.0007, 0.0008,
              0.0007, 0.0007, 0.0007, 0.0006, 0.0007, 0.0007, 0.0007, 0.0007, 0.0008, 0.0007,
              0.0007, 0.0008, 0.0007, 0.0008, 0.0008, 0.0007, 0.0007, 0.0006, 0.0007, 0.0007,
              0.0007, 0.0007, 0.0008, 0.0007, 0.0007, 0.0007, 0.0006, 0.0007, 0.0007, 0.0007,
              0.0007, 0.0007, 0.0007, 0.0007, 0.0007, 0.0008, 0.0007, 0.0008, 0.0007, 0.0007,
              0.0007, 0.0008, 0.0007, 0.0007, 0.0006, 0.0007, 0.0007, 0.0007, 0.0007, 0.0008,
              0.0007, 0.0007, 0.0007, 0.0009, 0.0009, 0.0008, 0.0007, 0.0007, 0.0007, 0.0007,
              0.0007, 0.0007, 0.0008, 0.0007, 0.0008, 0.0007, 0.0007, 0.0007, 0.0007, 0.0007,
              0.0007, 0.0007, 0.0008, 0.0007, 0.0007, 0.0008, 0.0007, 0.0007, 0.0007, 0.0007,
              0.0007, 0.0007, 0.0008, 0.0007, 0.0007, 0.0007, 0.0008, 0.0007, 0.0007, 0.0007,
              0.0007, 0.0008, 0.0007, 0.0007, 0.0007, 0.0007, 0.0007, 0.0007, 0.0008, 0.0007,
              0.0007, 0.0007, 0.0007, 0.0007, 0.0008, 0.0007, 0.0007, 0.0007, 0.0007, 0.0007,
              0.0007, 0.0007, 0.0007, 0.0007, 0.0006, 0.0007, 0.0007, 0.0007, 0.0007, 0.0007,
              0.0007, 0.0007, 0.0007, 0.0007, 0.0007, 0.0007, 0.0006, 0.0006]

# ---------------- sad ----------------
sad_uk = [0.00500, 0.00463, 0.00454, 0.00444, 0.00459, 0.00449, 0.00434, 0.00437, 0.00405, 0.00400,
          0.00391, 0.00381, 0.00396, 0.00403, 0.00393, 0.00400, 0.00405, 0.00403, 0.00415, 0.00429,
          0.00439, 0.00439, 0.00442, 0.00454, 0.00483, 0.00483, 0.00522, 0.00543, 0.00534, 0.00492,
          0.00444, 0.00396, 0.00391, 0.00386, 0.00366, 0.00379, 0.00379, 0.00376, 0.00386, 0.00396,
          0.00400, 0.00398, 0.00391, 0.00396, 0.00400, 0.00400, 0.00410, 0.00444, 0.00463, 0.00454,
          0.00473, 0.00473, 0.00475, 0.00434, 0.00396, 0.00366, 0.00352, 0.00357, 0.00347, 0.00352,
          0.00347, 0.00350, 0.00352, 0.00357, 0.00354, 0.00366, 0.00376, 0.00386, 0.00386, 0.00396,
          0.00415, 0.00432, 0.00434, 0.00473, 0.00471, 0.00473, 0.00473, 0.00483, 0.00429, 0.00386,
          0.00366, 0.00352, 0.00350, 0.00366,
          0.00364, 0.00366, 0.00372, 0.00376, 0.00383, 0.00385, 0.00386, 0.00391, 0.00398, 0.00405,
          0.00415, 0.00414, 0.00412, 0.00456, 0.00439, 0.00427, 0.00439, 0.00400, 0.00375, 0.00355,
          0.00352, 0.00352, 0.00359, 0.00352, 0.00350, 0.00348, 0.00345, 0.00345, 0.00345, 0.00345,
          0.00352, 0.00362, 0.00371, 0.00380, 0.00386, 0.00396, 0.00405, 0.00396, 0.00385, 0.00370,
          0.00366, 0.00371, 0.00362, 0.00337, 0.00330, 0.00330, 0.00342, 0.00338, 0.00335, 0.00330,
          0.00330, 0.00332, 0.00345, 0.00352, 0.00360, 0.00366, 0.00372, 0.00385, 0.00396, 0.00410,
          0.00422, 0.00408, 0.00402, 0.00394, 0.00386, 0.00380, 0.00376, 0.00374, 0.00365, 0.00358,
          0.00352, 0.00360, 0.00363, 0.00366, 0.00374, 0.00380, 0.00383, 0.00383, 0.00396, 0.00383,
          0.00405, 0.00407, 0.00410, 0.00412]
sad_uk_err = [0.00036, 0.00050, 0.00060, 0.00050, 0.00090, 0.00080, 0.00060, 0.00040, 0.00035, 0.00030,
              0.00030, 0.00030, 0.00030, 0.00035, 0.00035, 0.00035, 0.00040, 0.00040, 0.00040, 0.00040,
              0.00040, 0.00040, 0.00040, 0.00045, 0.00050, 0.00060, 0.00080, 0.00090, 0.00080, 0.00070,
              0.00050, 0.00040, 0.00035, 0.00030, 0.00030, 0.00030, 0.00030, 0.00030, 0.00030, 0.00030,
              0.00030, 0.00030, 0.00030, 0.00030, 0.00030, 0.00030, 0.00030, 0.00040, 0.00045, 0.00045,
              0.00050, 0.00060, 0.00060, 0.00050, 0.00040, 0.00035, 0.00030, 0.00030, 0.00030, 0.00030,
              0.00030, 0.00030, 0.00030, 0.00030, 0.00030, 0.00030, 0.00030, 0.00030, 0.00030, 0.00030,
              0.00030, 0.00035, 0.00040, 0.00050, 0.00070, 0.00070, 0.00090, 0.00110, 0.00070, 0.00050,
              0.00040, 0.00030, 0.00030, 0.00030, 0.00030, 0.00030, 0.00030, 0.00030, 0.00030, 0.00030,
              0.00030, 0.00030, 0.00030, 0.00030, 0.00030, 0.00030, 0.00035, 0.00040, 0.00050, 0.00040,
              0.00045, 0.00040, 0.00035, 0.00030, 0.00030, 0.00030, 0.00030, 0.00030, 0.00030, 0.00030,
              0.00030, 0.00030, 0.00030, 0.00030, 0.00030, 0.00030, 0.00030, 0.00030, 0.00035, 0.00040,
              0.00040, 0.00040, 0.00035, 0.00035, 0.00030, 0.00030, 0.00030, 0.00030, 0.00030, 0.00030,
              0.00030, 0.00030, 0.00030, 0.00030, 0.00030, 0.00030, 0.00030, 0.00030, 0.00030, 0.00030,
              0.00030, 0.00030, 0.00035, 0.00035, 0.00040, 0.00040, 0.00040, 0.00040, 0.00035, 0.00035,
              0.00030, 0.00030, 0.00030, 0.00030, 0.00030, 0.00030, 0.00030, 0.00030, 0.00030, 0.00030,
              0.00030, 0.00030, 0.00030, 0.00030, 0.00030, 0.00030, 0.00030, 0.00030]
sad_it = [0.00459, 0.00497, 0.00483, 0.00454, 0.00425, 0.00444, 0.00405, 0.00415, 0.00391, 0.00376,
          0.00371, 0.00386, 0.00376, 0.00381, 0.00376, 0.00376, 0.00386, 0.00352, 0.00376, 0.00371,
          0.00396, 0.00381, 0.00410, 0.00425, 0.00415, 0.00434, 0.00449, 0.00459, 0.00454, 0.00434,
          0.00415, 0.00396, 0.00386, 0.00371, 0.00352, 0.00347, 0.00347, 0.00340, 0.00347, 0.00357,
          0.00366, 0.00357, 0.00381, 0.00371, 0.00376, 0.00352, 0.00366, 0.00430, 0.00434, 0.00454,
          0.00468, 0.00463, 0.00449, 0.00415, 0.00386, 0.00366, 0.00352, 0.00376, 0.00357, 0.00366,
          0.00371, 0.00357, 0.00371, 0.00376, 0.00371, 0.00366, 0.00381, 0.00386, 0.00396, 0.00405,
          0.00415, 0.00415, 0.00454, 0.00483, 0.00502, 0.00478, 0.00459, 0.00434, 0.00405, 0.00386,
          0.00381, 0.00371, 0.00396, 0.00415,
          0.00425, 0.00434, 0.00439, 0.00425, 0.00430, 0.00415, 0.00405, 0.00391, 0.00425, 0.00434,
          0.00432, 0.00449, 0.00483, 0.00490, 0.00492, 0.00473, 0.00471, 0.00468, 0.00454, 0.00386,
          0.00376, 0.00386, 0.00380, 0.00376, 0.00366, 0.00386, 0.00390, 0.00396, 0.00405, 0.00415,
          0.00425, 0.00410, 0.00410, 0.00434, 0.00465, 0.00478, 0.00478, 0.00505, 0.00473, 0.00444,
          0.00415, 0.00444, 0.00415, 0.00396, 0.00405, 0.00381, 0.00400, 0.00391, 0.00395, 0.00400,
          0.00410, 0.00395, 0.00381, 0.00396, 0.00425, 0.00430, 0.00415, 0.00434, 0.00459, 0.00439,
          0.00463, 0.00468, 0.00454, 0.00435, 0.00420, 0.00396, 0.00391, 0.00386, 0.00371, 0.00352,
          0.00357, 0.00362, 0.00376, 0.00386, 0.00381, 0.00366, 0.00347, 0.00337, 0.00347, 0.00371,
          0.00376, 0.00391, 0.00400, 0.00396]
sad_it_err = [0.00090, 0.00060, 0.00055, 0.00060, 0.00070, 0.00060, 0.00065, 0.00060, 0.00060, 0.00070,
              0.00075, 0.00060, 0.00060, 0.00065, 0.00060, 0.00060, 0.00065, 0.00060, 0.00060, 0.00065,
              0.00060, 0.00060, 0.00065, 0.00060, 0.00070, 0.00075, 0.00070, 0.00065, 0.00070, 0.00080,
              0.00075, 0.00080, 0.00090, 0.00080, 0.00060, 0.00060, 0.00065, 0.00060, 0.00060, 0.00065,
              0.00065, 0.00060, 0.00060, 0.00060, 0.00060, 0.00060, 0.00065, 0.00065, 0.00060, 0.00070,
              0.00080, 0.00060, 0.00070, 0.00065, 0.00065, 0.00060, 0.00060, 0.00070, 0.00060, 0.00065,
              0.00065, 0.00060, 0.00065, 0.00060, 0.00065, 0.00060, 0.00070, 0.00065, 0.00070, 0.00065,
              0.00070, 0.00070, 0.00075, 0.00075, 0.00075, 0.00070, 0.00070, 0.00065, 0.00065, 0.00070,
              0.00065, 0.00060, 0.00065, 0.00065, 0.00070, 0.00070, 0.00065, 0.00070, 0.00065, 0.00065,
              0.00065, 0.00060, 0.00065, 0.00065, 0.00070, 0.00070, 0.00070, 0.00075, 0.00080, 0.00075,
              0.00080, 0.00075, 0.00070, 0.00065, 0.00065, 0.00060, 0.00065, 0.00060, 0.00065, 0.00060,
              0.00065, 0.00065, 0.00065, 0.00065, 0.00070, 0.00065, 0.00065, 0.00070, 0.00075, 0.00075,
              0.00075, 0.00080, 0.00075, 0.00075, 0.00070, 0.00070, 0.00065, 0.00065, 0.00065, 0.00065,
              0.00065, 0.00065, 0.00065, 0.00065, 0.00070, 0.00065, 0.00065, 0.00070, 0.00070, 0.00075,
              0.00070, 0.00070, 0.00065, 0.00070, 0.00070, 0.00065, 0.00065, 0.00070, 0.00065, 0.00065,
              0.00065, 0.00065, 0.00065, 0.00060, 0.00060, 0.00065, 0.00065, 0.00065, 0.00070, 0.00065,
              0.00070, 0.00070, 0.00060, 0.00065, 0.00065, 0.00060, 0.00065, 0.00065]

# ---------------- axes / ticks ----------------
x_range = (-8.35, 175.35)
x_ticks_hour = [0, 12, 24, 36, 48, 60, 72, 84, 96, 108, 120, 132, 144, 156, 168]
x_labels_hour = ["0", "12", "24", "36", "48", "60", "72", "84", "96", "108", "120", "132", "144", "156", "168"]
x_ticks = [0, 25, 50, 75, 100, 125, 150, 175]
x_labels = ["0", "25", "50", "75", "100", "125", "150", "175"]

count_yr = (-756, 28800)
count_yt = [0, 5000, 10000, 15000, 20000, 25000]
count_yl = ["0", "5000", "10000", "15000", "20000", "25000"]
affect_yr = (0.03746, 0.06038)
affect_yt = [0.040, 0.045, 0.050, 0.055, 0.060]
affect_yl = ["0.040", "0.045", "0.050", "0.055", "0.060"]
posemo_yr = (0.02089, 0.04481)
posemo_yt = [0.025, 0.030, 0.035, 0.040]
posemo_yl = ["0.025", "0.030", "0.035", "0.040"]
negemo_yr = (0.01376, 0.02462)
negemo_yt = [0.014, 0.016, 0.018, 0.020, 0.022, 0.024]
negemo_yl = ["0.014", "0.016", "0.018", "0.020", "0.022", "0.024"]
anger_yr = (0.00365, 0.01107)
anger_yt = [0.004, 0.005, 0.006, 0.007, 0.008, 0.009, 0.010, 0.011]
anger_yl = ["0.004", "0.005", "0.006", "0.007", "0.008", "0.009", "0.010", "0.011"]
anx_yr = (0.001617, 0.004297)
anx_yt = [0.0020, 0.0025, 0.0030, 0.0035, 0.0040]
anx_yl = ["0.0020", "0.0025", "0.0030", "0.0035", "0.0040"]
sad_yr = (0.00271, 0.006534)
sad_yt = [0.0030, 0.0035, 0.0040, 0.0045, 0.0050, 0.0055, 0.0060, 0.0065]
sad_yl = ["0.0030", "0.0035", "0.0040", "0.0045", "0.0050", "0.0055", "0.0060", "0.0065"]

FONT = "DejaVu Sans"


def panel(name, uk, uk_err, it, it_err, yr, yt, yl, xt, xl, left, height, bottom):
    if left:
        mbl, mbr = 55, 48
    else:
        mbl, mbr = 95, 10
    p = figure(width=945, height=height, x_range=Range1d(*x_range), y_range=Range1d(*yr),
               output_backend="svg", toolbar_location=None,
               min_border_left=mbl, min_border_right=mbr, min_border_top=26, min_border_bottom=bottom)
    p.title.text = name + " \u00a0(uk:blue; it:red)"
    p.title.align = "center"
    p.title.text_font = FONT
    p.title.text_font_size = "20px"
    p.title.text_font_style = "normal"
    p.title.text_color = "black"
    p.title.standoff = 2
    p.background_fill_color = "white"
    p.border_fill_color = "white"
    p.outline_line_color = "black"
    p.outline_line_width = 1
    p.xgrid.visible = False
    p.ygrid.visible = False

    for vals, errs, col in ((uk, uk_err, "blue"), (it, it_err, "red")):
        n = min(len(vals), len(errs), len(hours))
        src = ColumnDataSource(dict(
            x=hours[:n], y=vals[:n],
            lo=[vals[i] - errs[i] for i in range(n)],
            hi=[vals[i] + errs[i] for i in range(n)]))
        p.segment(x0="x", y0="lo", x1="x", y1="hi", source=src, line_color=col, line_width=1.4)
        p.scatter("x", "hi", marker="dash", size=12, source=src, line_color=col, line_width=1.4)
        p.scatter("x", "lo", marker="dash", size=12, source=src, line_color=col, line_width=1.4)
        p.line("x", "y", source=src, line_color=col, line_width=1.7)

    p.xaxis.ticker = FixedTicker(ticks=xt)
    p.xaxis.major_label_overrides = {t: s for t, s in zip(xt, xl)}
    p.yaxis.ticker = FixedTicker(ticks=yt)
    p.yaxis.major_label_overrides = {t: s for t, s in zip(yt, yl)}
    for ax in (p.xaxis[0], p.yaxis[0]):
        ax.axis_line_color = None
        ax.major_tick_line_color = "black"
        ax.major_tick_out = 5
        ax.major_tick_in = 0
        ax.minor_tick_out = 0
        ax.minor_tick_in = 0
        ax.major_label_text_font = FONT
        ax.major_label_text_font_size = "13.5px"
        ax.major_label_text_color = "black"
        ax.major_label_standoff = 3
    return p


H1, H2, H3, H4 = 392, 394, 394, 306
p1 = panel("count", count_uk, count_uk_err, count_it, count_it_err, count_yr, count_yt, count_yl,
           x_ticks_hour, x_labels_hour, True, H1, 106)
p2 = panel("affect", affect_uk, affect_uk_err, affect_it, affect_it_err, affect_yr, affect_yt, affect_yl,
           x_ticks, x_labels, False, H1, 106)
p3 = panel("posemo", posemo_uk, posemo_uk_err, posemo_it, posemo_it_err, posemo_yr, posemo_yt, posemo_yl,
           x_ticks, x_labels, True, H2, 106)
p4 = panel("negemo", negemo_uk, negemo_uk_err, negemo_it, negemo_it_err, negemo_yr, negemo_yt, negemo_yl,
           x_ticks, x_labels, False, H2, 106)
p5 = panel("anger", anger_uk, anger_uk_err, anger_it, anger_it_err, anger_yr, anger_yt, anger_yl,
           x_ticks, x_labels, True, H3, 106)
p6 = panel("anx", anx_uk, anx_uk_err, anx_it, anx_it_err, anx_yr, anx_yt, anx_yl,
           x_ticks, x_labels, False, H3, 106)
p7 = panel("sad", sad_uk, sad_uk_err, sad_it, sad_it_err, sad_yr, sad_yt, sad_yl,
           x_ticks, x_labels, True, H4, 24)

layout = column(row(p1, p2), row(p3, p4), row(p5, p6), row(p7))
open("out.html", "w").write(file_html(layout, INLINE, title="uk vs it"))
